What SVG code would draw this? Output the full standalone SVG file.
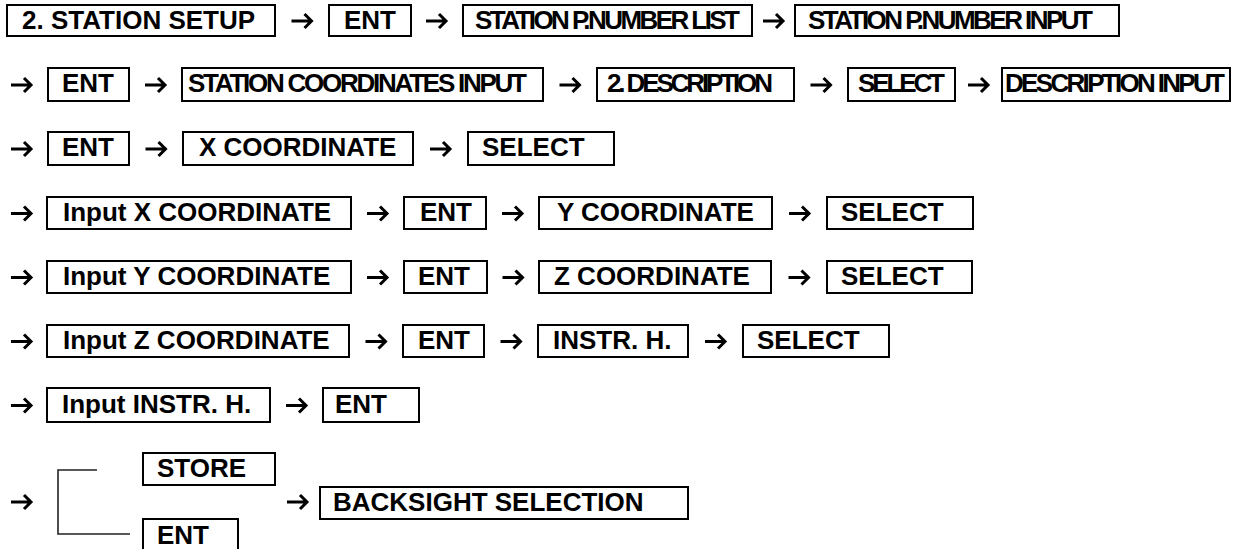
<svg xmlns="http://www.w3.org/2000/svg" width="1247" height="549" viewBox="0 0 1247 549">
<style>
.box{fill:#fff;stroke:#000;stroke-width:2}
.t{font-family:"Liberation Sans",Arial,sans-serif;font-weight:bold;font-size:26px;fill:#000}
.ar{fill:none;stroke:#000;stroke-width:3;stroke-linejoin:miter}
.br{fill:none;stroke:#222;stroke-width:1.6}
</style>
<defs>
<path id="ar" class="ar" d="M0,0 H20 M13,-7 L20,0 L13,7"/>
</defs>
<rect width="1247" height="549" fill="#fff"/>
<g id="connectors">
<use href="#ar" x="291.5" y="21"/>
<use href="#ar" x="426" y="21"/>
<use href="#ar" x="763" y="21"/>
<use href="#ar" x="11" y="85"/>
<use href="#ar" x="145" y="85"/>
<use href="#ar" x="559.5" y="85"/>
<use href="#ar" x="810.5" y="85"/>
<use href="#ar" x="968" y="85"/>
<use href="#ar" x="11" y="149"/>
<use href="#ar" x="145.5" y="149"/>
<use href="#ar" x="430" y="149"/>
<use href="#ar" x="11" y="213.5"/>
<use href="#ar" x="367" y="213.5"/>
<use href="#ar" x="502" y="213.5"/>
<use href="#ar" x="789" y="213.5"/>
<use href="#ar" x="11" y="277.5"/>
<use href="#ar" x="367" y="277.5"/>
<use href="#ar" x="502.5" y="277.5"/>
<use href="#ar" x="788.5" y="277.5"/>
<use href="#ar" x="11" y="341.5"/>
<use href="#ar" x="365.5" y="341.5"/>
<use href="#ar" x="500.5" y="341.5"/>
<use href="#ar" x="705" y="341.5"/>
<use href="#ar" x="11" y="405.5"/>
<use href="#ar" x="286" y="405.5"/>
<use href="#ar" x="11" y="502"/>
<use href="#ar" x="287" y="502"/>
<path class="br" d="M97,470 H58 V534 H130"/>
</g>
<g id="n1"><rect class="box" x="7" y="5" width="268" height="31"/><text class="t" x="22" y="29">2. STATION SETUP</text></g>
<g id="n2"><rect class="box" x="329" y="5" width="82" height="31"/><text class="t" x="344" y="29">ENT</text></g>
<g id="n3"><rect class="box" x="463" y="5" width="289" height="31"/><text class="t" x="475" y="29" textLength="265" lengthAdjust="spacing">STATION P.NUMBER LIST</text></g>
<g id="n4"><rect class="box" x="795" y="5" width="324" height="31"/><text class="t" x="808" y="29" textLength="285" lengthAdjust="spacing">STATION P.NUMBER INPUT</text></g>
<g id="n5"><rect class="box" x="48" y="68" width="81" height="33"/><text class="t" x="62" y="92">ENT</text></g>
<g id="n6"><rect class="box" x="182" y="68" width="361" height="33"/><text class="t" x="188" y="92" textLength="339" lengthAdjust="spacing">STATION COORDINATES INPUT</text></g>
<g id="n7"><rect class="box" x="597" y="68" width="197" height="33"/><text class="t" x="607" y="92" textLength="166" lengthAdjust="spacing">2. DESCRIPTION</text></g>
<g id="n8"><rect class="box" x="848" y="68" width="107" height="33"/><text class="t" x="858" y="92" textLength="87" lengthAdjust="spacing">SELECT</text></g>
<g id="n9"><rect class="box" x="1002" y="68" width="228" height="33"/><text class="t" x="1005" y="92" textLength="220" lengthAdjust="spacing">DESCRIPTION INPUT</text></g>
<g id="n10"><rect class="box" x="48" y="132" width="81" height="33"/><text class="t" x="62" y="156">ENT</text></g>
<g id="n11"><rect class="box" x="183" y="132" width="230" height="33"/><text class="t" x="199" y="156">X COORDINATE</text></g>
<g id="n12"><rect class="box" x="468" y="132" width="146" height="33"/><text class="t" x="482" y="156">SELECT</text></g>
<g id="n13"><rect class="box" x="47" y="197" width="304" height="32"/><text class="t" x="63" y="221">Input X COORDINATE</text></g>
<g id="n14"><rect class="box" x="404" y="197" width="82" height="32"/><text class="t" x="420" y="221">ENT</text></g>
<g id="n15"><rect class="box" x="539" y="197" width="233" height="32"/><text class="t" x="557" y="221">Y COORDINATE</text></g>
<g id="n16"><rect class="box" x="827" y="197" width="146" height="32"/><text class="t" x="841" y="221">SELECT</text></g>
<g id="n17"><rect class="box" x="47" y="261" width="304" height="32"/><text class="t" x="63" y="285">Input Y COORDINATE</text></g>
<g id="n18"><rect class="box" x="404" y="261" width="83" height="32"/><text class="t" x="418" y="285">ENT</text></g>
<g id="n19"><rect class="box" x="539" y="261" width="232" height="32"/><text class="t" x="554" y="285">Z COORDINATE</text></g>
<g id="n20"><rect class="box" x="827" y="261" width="145" height="32"/><text class="t" x="841" y="285">SELECT</text></g>
<g id="n21"><rect class="box" x="47" y="325" width="302" height="32"/><text class="t" x="63" y="349">Input Z COORDINATE</text></g>
<g id="n22"><rect class="box" x="403" y="325" width="81" height="32"/><text class="t" x="418" y="349">ENT</text></g>
<g id="n23"><rect class="box" x="538" y="325" width="150" height="32"/><text class="t" x="553" y="349">INSTR. H.</text></g>
<g id="n24"><rect class="box" x="743" y="325" width="146" height="32"/><text class="t" x="757" y="349">SELECT</text></g>
<g id="n25"><rect class="box" x="47" y="388" width="223" height="34"/><text class="t" x="62" y="413">Input INSTR. H.</text></g>
<g id="n26"><rect class="box" x="323" y="388" width="96" height="34"/><text class="t" x="335" y="413">ENT</text></g>
<g id="n27"><rect class="box" x="143" y="453" width="132" height="32"/><text class="t" x="157" y="477">STORE</text></g>
<g id="n28"><rect class="box" x="143" y="519" width="95" height="36"/><text class="t" x="157" y="544">ENT</text></g>
<g id="n29"><rect class="box" x="320" y="487" width="368" height="32"/><text class="t" x="333" y="511">BACKSIGHT SELECTION</text></g>
</svg>
